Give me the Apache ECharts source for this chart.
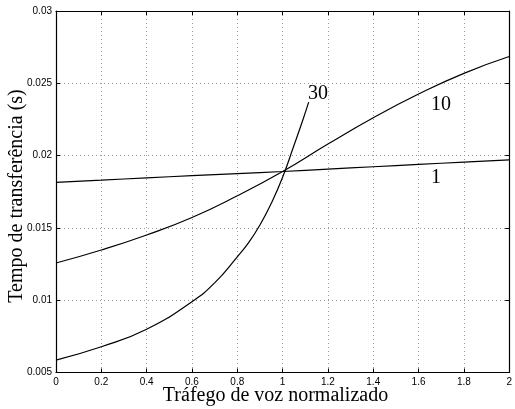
<!DOCTYPE html>
<html>
<head>
<meta charset="utf-8">
<script src="https://cdn.jsdelivr.net/npm/echarts@6/dist/echarts.min.js"></script>
<style>
  html, body { margin: 0; padding: 0; background: #fff; }
  #chart { width: 515px; height: 409px; }
</style>
</head>
<body>
<div id="chart"></div>
<script>
// Normalised voice traffic (x) for the two long curves
const trafficX = [0, 0.2, 0.4, 0.6, 0.8, 1.0, 1.2, 1.4, 1.6, 1.8, 2.0];
// Transfer time (s), curve "1"
const timeCurve1 = [0.01815, 0.0183, 0.01846, 0.01861, 0.01876, 0.0189, 0.01907, 0.01923, 0.01939, 0.01955, 0.0197];
// Transfer time (s), curve "10"
const timeCurve10 = [0.01257, 0.01347, 0.01451, 0.01572, 0.01722, 0.0189, 0.0208, 0.02262, 0.02426, 0.02569, 0.02685];
// Curve "30" stops shortly after x = 1.1
const trafficX30 = [0, 0.2, 0.4, 0.6, 0.7, 0.8, 0.85, 0.9, 0.95, 1.0, 1.05, 1.09, 1.115];
const timeCurve30 = [0.00586, 0.00678, 0.00799, 0.0099, 0.0112, 0.013, 0.01398, 0.0152, 0.0167, 0.0185, 0.0207, 0.0225, 0.0237];

// Curve names and where each name is written
const curveNames = ['1', '10', '30'];
const namePos = [[1.677, 0.01845], [1.699, 0.0235], [1.156, 0.0243]];

const xTitle = 'Tráfego de voz normalizado';
const yTitle = 'Tempo de transferência (s)';

const pairs = (xs, ys) => xs.map((x, i) => [x, ys[i]]);

const serif = 'Liberation Serif';
const sans = 'Liberation Sans';

function lineSeries(name, data, pos) {
  return {
    name: name,
    type: 'line',
    data: data,
    smooth: 0.5,
    showSymbol: false,
    symbol: 'none',
    lineStyle: { color: '#000', width: 1.2 },
    silent: true,
    markPoint: {
      symbol: 'circle',
      symbolSize: 0,
      data: [{ coord: pos }],
      label: {
        show: true,
        formatter: name,
        color: '#000',
        fontFamily: serif,
        fontSize: 20,
        position: 'inside'
      }
    }
  };
}

const chart = echarts.init(document.getElementById('chart'), null, { renderer: 'canvas' });

const tickStyle = { show: true, inside: true, length: 4, lineStyle: { color: '#000', width: 1 } };
const axisLineStyle = { show: true, onZero: false, lineStyle: { color: '#000', width: 1.2 } };
const gridLine = { show: true, lineStyle: { color: '#999', type: [1, 3], width: 1 } };

chart.setOption({
  animation: false,
  backgroundColor: '#fff',
  grid: { left: 56, right: 1, top: 11, bottom: 36.5, containLabel: false },
  xAxis: [
    {
      type: 'value', min: 0, max: 2, interval: 0.2,
      axisLine: axisLineStyle,
      axisTick: tickStyle,
      axisLabel: { color: '#000', fontFamily: sans, fontSize: 10, margin: 5 },
      splitLine: gridLine
    },
    {
      type: 'value', min: 0, max: 2, interval: 0.2, position: 'top',
      axisLine: axisLineStyle,
      axisTick: tickStyle,
      axisLabel: { show: false },
      splitLine: { show: false }
    }
  ],
  yAxis: [
    {
      type: 'value', min: 0.005, max: 0.03, interval: 0.005,
      axisLine: axisLineStyle,
      axisTick: tickStyle,
      axisLabel: { color: '#000', fontFamily: sans, fontSize: 10, margin: 4 },
      splitLine: gridLine
    },
    {
      type: 'value', min: 0.005, max: 0.03, interval: 0.005, position: 'right',
      axisLine: axisLineStyle,
      axisTick: tickStyle,
      axisLabel: { show: false },
      splitLine: { show: false }
    }
  ],
  series: [
    lineSeries(curveNames[0], pairs(trafficX, timeCurve1), namePos[0]),
    lineSeries(curveNames[1], pairs(trafficX, timeCurve10), namePos[1]),
    lineSeries(curveNames[2], pairs(trafficX30, timeCurve30), namePos[2])
  ],
  graphic: [
    {
      type: 'text', x: 275.5, y: 396,
      style: { text: xTitle, fontFamily: serif, fontSize: 20, fill: '#000', align: 'center', verticalAlign: 'middle' }
    },
    {
      type: 'text', x: 17, y: 196, rotation: Math.PI / 2,
      style: { text: yTitle, fontFamily: serif, fontSize: 20, fill: '#000', align: 'center', verticalAlign: 'middle' }
    }
  ]
});
</script>
</body>
</html>
